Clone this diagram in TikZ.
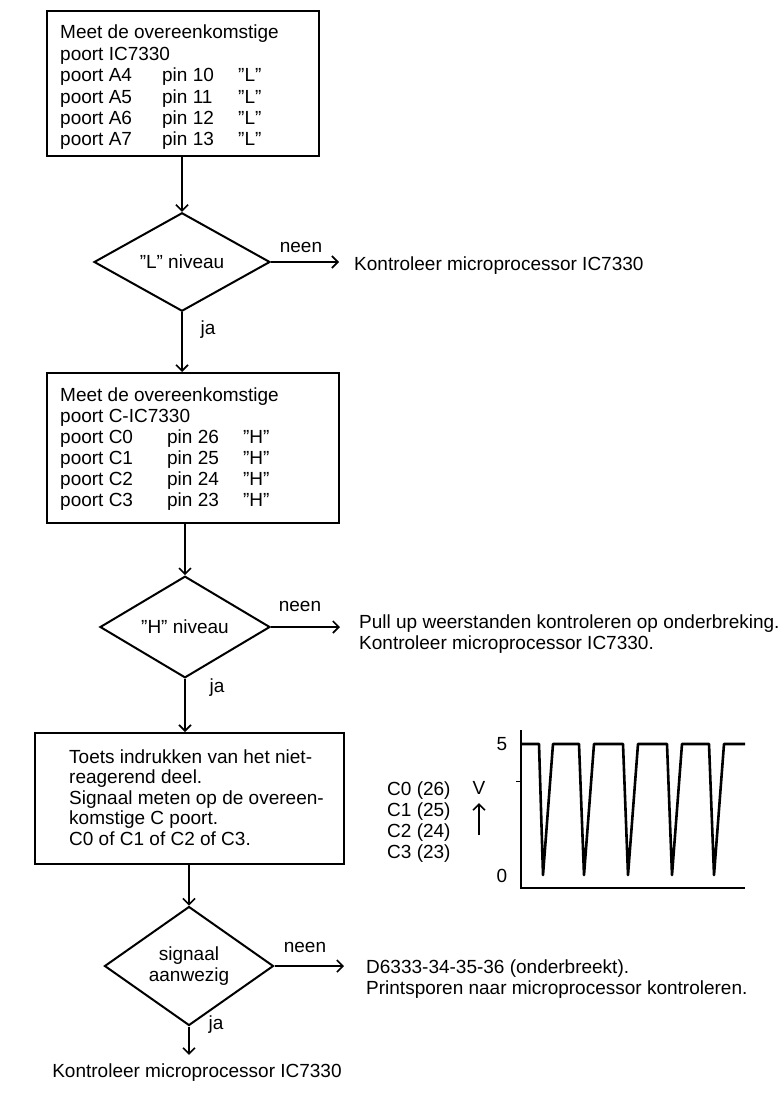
\documentclass[tikz,border=0pt]{standalone}
\usepackage{fontspec}
\setmainfont{Liberation Sans}
\usetikzlibrary{arrows.meta,shapes.geometric}
\begin{document}
\begin{tikzpicture}[x=1pt,y=-1pt,
  txt/.style={inner sep=0pt, font=\fontsize{19}{21}\selectfont},
  lbl/.style={txt, anchor=base west},
  procbox/.style={draw, line width=2pt, anchor=north west, inner sep=0pt},
  decision/.style={draw, diamond, line width=2pt, inner sep=0pt, align=center,
    font=\fontsize{19}{21}\selectfont},
  flow/.style={line width=1.6pt, -{Straight Barb[length=6pt,width=12pt,line width=1.6pt]}},
  wave/.style={line width=2.6pt, line join=round},
]
\useasboundingbox (0,0) rectangle (783,1099);

% --- first measurement box ---
\node[procbox, minimum width=272pt, minimum height=145pt] (b1) at (46,10) {};
\node[lbl, font=\fontsize{19}{21.4}\selectfont] (t1) at (60,39) {%
  \begin{tabular}[t]{@{}p{102pt}@{}p{76pt}@{}l@{}}
  \multicolumn{3}{@{}l@{}}{Meet de overeenkomstige}\\
  \multicolumn{3}{@{}l@{}}{poort IC7330}\\
  poort A4 & pin 10 & ''L''\\
  poort A5 & pin 11 & ''L''\\
  poort A6 & pin 12 & ''L''\\
  poort A7 & pin 13 & ''L''
  \end{tabular}};

% --- first decision ---
\node[decision, minimum width=176pt, minimum height=84pt] (d1) at (182,262) {''L'' niveau};
\draw[flow] (d1.north |- b1.south) -- (d1.north);
\node[txt] (n1) at (301,247) {neen};
\node[lbl] (k1) at (354,270) {Kontroleer microprocessor IC7330};
\draw[flow, shorten >=15pt] (d1.east) -- (d1.east -| k1.west);
\node[txt] (j1) at (208,330) {ja};

% --- second measurement box ---
\node[procbox, minimum width=292pt, minimum height=150pt] (b2) at (46,372) {};
\draw[flow] (d1.south) -- (d1.south |- b2.north);
\node[lbl] (t2) at (60,401) {%
  \begin{tabular}[t]{@{}p{107pt}@{}p{76pt}@{}l@{}}
  \multicolumn{3}{@{}l@{}}{Meet de overeenkomstige}\\
  \multicolumn{3}{@{}l@{}}{poort C-IC7330}\\
  poort C0 & pin 26 & ''H''\\
  poort C1 & pin 25 & ''H''\\
  poort C2 & pin 24 & ''H''\\
  poort C3 & pin 23 & ''H''
  \end{tabular}};

% --- second decision ---
\node[decision, minimum width=170pt, minimum height=84pt] (d2) at (185,627) {''H'' niveau};
\draw[flow] (d2.north |- b2.south) -- (d2.north);
\node[txt] (n2) at (300,606) {neen};
\node[lbl] (k2) at (359,628) {%
  \begin{tabular}[t]{@{}l@{}}
  Pull up weerstanden kontroleren op onderbreking.\\
  Kontroleer microprocessor IC7330.
  \end{tabular}};
\draw[flow, shorten >=19pt] (d2.east) -- (d2.east -| k2.west);
\node[txt] (j2) at (217,688) {ja};

% --- third box ---
\node[procbox, minimum width=309pt, minimum height=131pt] (b3) at (34,732) {};
\draw[flow] (d2.south) -- (d2.south |- b3.north);
\node[lbl, font=\fontsize{19}{20.5}\selectfont] (t3) at (69,763) {%
  \begin{tabular}[t]{@{}l@{}}
  Toets indrukken van het niet-\\
  reagerend deel.\\
  Signaal meten op de overeen-\\
  komstige C poort.\\
  C0 of C1 of C2 of C3.
  \end{tabular}};

% --- third decision ---
\node[decision, minimum width=169pt, minimum height=82pt] (d3) at (189,966) {signaal\\aanwezig};
\draw[flow] (d3.north |- b3.south) -- (d3.north);
\node[txt] (n3) at (305,947) {neen};
\node[lbl] (k3) at (366,973) {%
  \begin{tabular}[t]{@{}l@{}}
  D6333-34-35-36 (onderbreekt).\\
  Printsporen naar microprocessor kontroleren.
  \end{tabular}};
\draw[flow, shorten >=22pt] (d3.east) -- (d3.east -| k3.west);
\node[txt] (j3) at (216,1025) {ja};
\node[txt] (k4) at (197,1073) {Kontroleer microprocessor IC7330};
\draw[flow, shorten >=9pt] (d3.south) -- (d3.south |- k4.north);

% --- signal waveform ---
\coordinate (ax) at (521,730);
\coordinate (org) at (521,888);
\coordinate (ex) at (745,888);
\draw[line width=2pt] (ax) -- (org) -- (ex);
\draw[line width=1pt] (516,781) -- (521,781);
\node[txt] (five) at (502,744) {5};
\node[txt] (zero) at (502,876) {0};
\draw[wave] (521,744) -- (539,744) -- (543,875) -- (553,744)
  -- (579,744) -- (584,875) -- (594,744)
  -- (623,744) -- (628,875) -- (638,744)
  -- (667,744) -- (672,875) -- (682,744)
  -- (709,744) -- (714,875) -- (724,744) -- (745,744);
\node[txt] (vlab) at (479,788) {V};
\coordinate (vlo) at (479,835);
\coordinate (vhi) at (479,803);
\draw[flow] (vlo) -- (vhi);
\node[lbl] (clab) at (387,795) {%
  \begin{tabular}[t]{@{}l@{}}
  C0 (26)\\C1 (25)\\C2 (24)\\C3 (23)
  \end{tabular}};
\end{tikzpicture}
\end{document}
